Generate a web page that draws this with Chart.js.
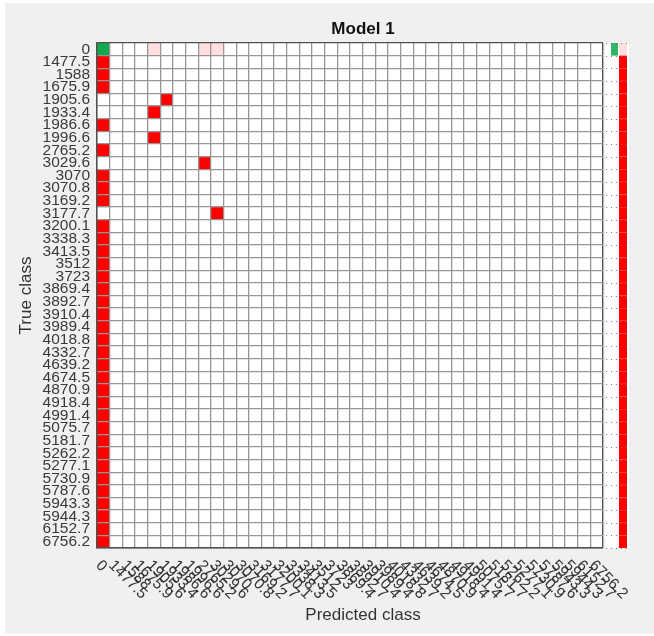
<!DOCTYPE html>
<html>
<head>
<meta charset="utf-8">
<title>Model 1</title>
<script src="https://cdn.jsdelivr.net/npm/chart.js@4/dist/chart.umd.min.js"></script>
<style>
  html, body { margin: 0; padding: 0; background: #ffffff; }
  canvas { display: block; }
</style>
</head>
<body>
<canvas id="cm" width="654" height="636"></canvas>
<script>
// Class labels (same list on both axes)
const classes = ['0', '1477.5', '1588', '1675.9', '1905.6', '1933.4', '1986.6', '1996.6',
  '2765.2', '3029.6', '3070', '3070.8', '3169.2', '3177.7', '3200.1', '3338.3', '3413.5',
  '3512', '3723', '3869.4', '3892.7', '3910.4', '3989.4', '4018.8', '4332.7', '4639.2',
  '4674.5', '4870.9', '4918.4', '4991.4', '5075.7', '5181.7', '5262.2', '5277.1', '5730.9',
  '5787.6', '5943.3', '5944.3', '6152.7', '6756.2'];

// Non-zero cells of the confusion matrix: true class index, predicted class index, count
const cellTrue = [0, 0, 0, 0,
  1, 2, 3, 4, 5, 6, 7, 8, 9, 10, 11, 12, 13, 14, 15, 16, 17, 18, 19, 20,
  21, 22, 23, 24, 25, 26, 27, 28, 29, 30, 31, 32, 33, 34, 35, 36, 37, 38, 39];
const cellPred = [0, 4, 8, 9,
  0, 0, 0, 5, 4, 0, 4, 0, 8, 0, 0, 0, 9, 0, 0, 0, 0, 0, 0, 0,
  0, 0, 0, 0, 0, 0, 0, 0, 0, 0, 0, 0, 0, 0, 0, 0, 0, 0, 0];
const cellCount = [20, 1, 1, 1,
  8, 8, 8, 8, 8, 8, 8, 8, 8, 8, 8, 8, 8, 8, 8, 8, 8, 8, 8, 8,
  8, 8, 8, 8, 8, 8, 8, 8, 8, 8, 8, 8, 8, 8, 8, 8, 8, 8, 8];

const GREEN = [18, 170, 78];
const RED = [255, 0, 0];
const FONT = '"Liberation Sans", Arial, Helvetica, sans-serif';

function shade(rgb, f) {
  return 'rgb(' + rgb.map(c => Math.round(255 - (255 - c) * f)).join(',') + ')';
}

const isDiag = cellTrue.map((t, i) => t === cellPred[i]);
const maxDiag = Math.max(...cellCount.filter((c, i) => isDiag[i]));
const maxOff = Math.max(...cellCount.filter((c, i) => !isDiag[i]));
const cellColors = cellCount.map((c, i) =>
  isDiag[i] ? shade(GREEN, c / maxDiag) : shade(RED, c / maxOff));

// per-row totals for the row summary
const rowTotal = classes.map(() => 0);
const rowCorrect = classes.map(() => 0);
cellCount.forEach((c, i) => {
  rowTotal[cellTrue[i]] += c;
  if (isDiag[i]) rowCorrect[cellTrue[i]] += c;
});

const points = cellTrue.map((t, i) => ({ x: classes[cellPred[i]], y: classes[t] }));

const backgroundPlugin = {
  id: 'panelBackground',
  beforeDraw(chart) {
    const { ctx, width, height, chartArea: a } = chart;
    ctx.save();
    ctx.fillStyle = '#ffffff';
    ctx.fillRect(0, 0, width, height);
    ctx.fillStyle = '#f0f0f0';
    ctx.fillRect(5, 3, width - 5, height - 5);
    // white matrix area
    ctx.fillStyle = '#ffffff';
    ctx.fillRect(a.left, a.top, a.right - a.left, a.bottom - a.top);
    ctx.restore();
  }
};

const summaryPlugin = {
  id: 'rowSummary',
  afterDatasetsDraw(chart) {
    const { ctx, chartArea: a, scales: { y } } = chart;
    const step = (a.bottom - a.top) / classes.length;
    ctx.save();
    ctx.fillStyle = '#ffffff';
    ctx.fillRect(a.right + 2, a.top, 24, a.bottom - a.top);
    classes.forEach((lab, r) => {
      const tot = rowTotal[r];
      if (!tot) return;
      const top = y.getPixelForValue(r) - step / 2;
      const ok = rowCorrect[r] / tot;
      const bad = 1 - ok;
      if (ok > 0) { ctx.fillStyle = shade(GREEN, ok); ctx.fillRect(a.right + 8, top, 7, step); }
      if (bad > 0) { ctx.fillStyle = shade(RED, bad); ctx.fillRect(a.right + 16, top, 8, step); }
    });
    ctx.strokeStyle = '#7a7a7a';
    ctx.lineWidth = 1;
    ctx.setLineDash([1, 4]);
    for (let r = 0; r <= classes.length; r++) {
      const yy = Math.round(a.top + r * step) + 0.5;
      ctx.beginPath();
      ctx.moveTo(a.right + 3, yy);
      ctx.lineTo(a.right + 26, yy);
      ctx.stroke();
    }
    ctx.restore();
  }
};

const textPlugin = {
  id: 'chartTexts',
  afterDraw(chart) {
    const { ctx, chartArea: a, scales: { x } } = chart;
    const cx = (a.left + a.right + 26) / 2;
    ctx.save();
    // title
    ctx.fillStyle = '#111111';
    ctx.font = 'bold 17px ' + FONT;
    ctx.textAlign = 'center';
    ctx.textBaseline = 'middle';
    ctx.fillText('Model 1', cx, 29);
    // axis titles
    ctx.fillStyle = '#333333';
    ctx.font = '17px ' + FONT;
    ctx.fillText('Predicted class', cx, 615);
    ctx.save();
    ctx.translate(26, (a.top + a.bottom) / 2);
    ctx.rotate(-Math.PI / 2);
    ctx.fillText('True class', 0, 0);
    ctx.restore();
    // rotated predicted-class tick labels
    ctx.font = '15.5px ' + FONT;
    ctx.textAlign = 'left';
    ctx.textBaseline = 'middle';
    classes.forEach((lab, i) => {
      const px = x.getPixelForTick(i);
      ctx.save();
      ctx.translate(px - 5, a.bottom + 15);
      ctx.rotate(Math.PI / 4);
      ctx.fillText(lab, 0, 0);
      ctx.restore();
    });
    ctx.restore();
  }
};

const gridColor = ctx => (ctx.type !== 'tick' || ctx.index === 0) ? '#505050' : '#969696';

new Chart(document.getElementById('cm'), {
  type: 'scatter',
  data: {
    datasets: [{
      data: points,
      pointStyle: 'rect',
      backgroundColor: cellColors,
      borderWidth: 0,
      pointRadius: ctx => (ctx.chart.chartArea ? (ctx.chart.chartArea.right - ctx.chart.chartArea.left) / classes.length : 12.65) * Math.SQRT1_2,
      pointHoverRadius: ctx => (ctx.chart.chartArea ? (ctx.chart.chartArea.right - ctx.chart.chartArea.left) / classes.length : 12.65) * Math.SQRT1_2
    }]
  },
  options: {
    responsive: false,
    animation: false,
    events: [],
    layout: { padding: { top: 43, right: 51, bottom: 0, left: 0 } },
    plugins: { legend: { display: false }, tooltip: { enabled: false }, title: { display: false } },
    scales: {
      x: {
        type: 'category',
        labels: classes,
        position: 'bottom',
        offset: true,
        grid: { offset: true, drawTicks: false, color: gridColor, lineWidth: 1.3, z: 1 },
        border: { display: true, color: '#505050', width: 1.4, z: 1 },
        ticks: { display: false, autoSkip: false },
        afterFit: s => { s.height = 88; }
      },
      y: {
        type: 'category',
        labels: classes,
        position: 'left',
        offset: true,
        grid: { offset: true, drawTicks: false, color: gridColor, lineWidth: 1.3, z: 1 },
        border: { display: true, color: '#505050', width: 1.4, z: 1 },
        ticks: {
          autoSkip: false,
          padding: 7,
          color: '#3a3a3a',
          font: { family: FONT, size: 15.5 }
        },
        afterFit: s => { s.width = 97; }
      }
    }
  },
  plugins: [backgroundPlugin, summaryPlugin, textPlugin]
});
</script>
</body>
</html>
